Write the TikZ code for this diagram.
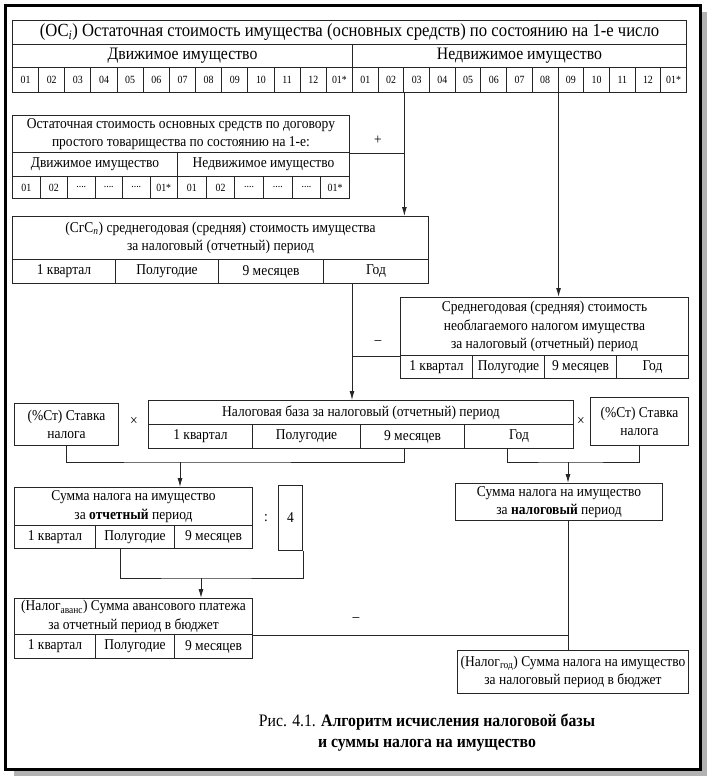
\documentclass[tikz,border=0pt]{standalone}
\usepackage{fontspec}
\setmainfont{Liberation Serif}[FakeStretch=0.9]
\usetikzlibrary{arrows.meta}

\colorlet{ink}{black!85}
\newcommand\txtfont{\fontsize{15}{18.5}\selectfont}
\newcommand\headfont{\fontsize{17.5}{20}\selectfont}
\newcommand\titlefont{\fontsize{18.5}{20}\selectfont}
\newcommand\numfont{\fontsize{11}{12}\selectfont}
\newcommand\capfont{\fontsize{17.5}{21}\selectfont}
\newcommand\fd{....}

\tikzset{
  box/.style={draw=ink, line width=1pt, inner sep=0pt, anchor=north west,
    align=center, font=\txtfont},
  headbox/.style={box, font=\headfont},
  numcell/.style={box, font=\numfont},
  conn/.style={draw=ink, line width=1pt},
  arr/.style={conn, -{Latex[length=9pt,width=5pt]}},
  sign/.style={inner sep=1pt, font=\txtfont},
}

\begin{document}
\begin{tikzpicture}[x=1pt,y=-1pt]
\fill[white] (0,0) rectangle (712,782);
\useasboundingbox (0,0) rectangle (712,782);
% frame with shadow
\draw[line width=5pt, black!30] (14,773) -- (704,773) -- (704,12);
\draw[line width=3pt] (5,5) rectangle (700,769);

% residual value, top
\node[headbox, font=\titlefont, minimum width=674pt, minimum height=24pt] (osTitle) at (12,20)
{(ОС\textsubscript{\textit{i}}) Остаточная стоимость имущества (основных средств) по состоянию на 1-е число};
\node[headbox, minimum width=340pt, minimum height=23pt] (osMov) at (12,44) {Движимое имущество};
\node[headbox, minimum width=334pt, minimum height=23pt] (osImm) at (352,44) {Недвижимое имущество};
\foreach \t [count=\i] in {01,02,03,04,05,06,07,08,09,10,11,12,01*}
  \node[numcell, minimum width=26.154pt, minimum height=25pt] (m\i) at ({12+(\i-1)*26.154},67) {\t};
\foreach \t [count=\i] in {01,02,03,04,05,06,07,08,09,10,11,12,01*}
  \node[numcell, minimum width=25.692pt, minimum height=25pt] (n\i) at ({352+(\i-1)*25.692},67) {\t};

% simple partnership
\node[box, minimum width=337pt, minimum height=37pt] (dogTitle) at (12,115)
{Остаточная стоимость основных средств по договору\\простого товарищества по состоянию на 1-е:};
\node[box, minimum width=165pt, minimum height=24pt] (dogMov) at (12,152) {Движимое имущество};
\node[box, minimum width=172pt, minimum height=24pt] (dogImm) at (177,152) {Недвижимое имущество};
\foreach \t [count=\i] in {01,02,\fd,\fd,\fd,01*}
  \node[numcell, minimum width=27.5pt, minimum height=22pt] (dm\i) at ({12+(\i-1)*27.5},176) {\t};
\foreach \t [count=\i] in {01,02,\fd,\fd,\fd,01*}
  \node[numcell, minimum width=28.667pt, minimum height=22pt] (dn\i) at ({177+(\i-1)*28.667},176) {\t};
\node[sign] (plus) at (378,140) {+};

% average annual value
\node[box, minimum width=416pt, minimum height=43pt] (sgc) at (12,216)
{(СгС\textsubscript{\textit{п}}) среднегодовая (средняя) стоимость имущества\\за налоговый (отчетный) период};
\node[box, minimum width=103pt, minimum height=24pt] (sgc1) at (12,259) {1 квартал};
\node[box, minimum width=103pt, minimum height=24pt] (sgc2) at (115,259) {Полугодие};
\node[box, minimum width=105pt, minimum height=24pt] (sgc3) at (218,259) {9 месяцев};
\node[box, minimum width=105pt, minimum height=24pt] (sgc4) at (323,259) {Год};

% non-taxed property
\node[box, minimum width=288pt, minimum height=58pt] (free) at (400,297)
{Среднегодовая (средняя) стоимость\\необлагаемого налогом имущества\\за налоговый (отчетный) период};
\node[box, minimum width=72pt, minimum height=23pt] (free1) at (400,355) {1 квартал};
\node[box, minimum width=72pt, minimum height=23pt] (free2) at (472,355) {Полугодие};
\node[box, minimum width=72pt, minimum height=23pt] (free3) at (544,355) {9 месяцев};
\node[box, minimum width=72pt, minimum height=23pt] (free4) at (616,355) {Год};
\node[sign] (minusA) at (378,343) {--};

% tax base and rates
\node[box, minimum width=104pt, minimum height=42pt] (rateL) at (14,403) {(\%Ст) Ставка\\налога};
\node[sign] (timesL) at (134,421) {×};
\node[box, minimum width=425pt, minimum height=24pt] (base) at (148,400)
{Налоговая база за налоговый (отчетный) период};
\node[box, minimum width=104pt, minimum height=24pt] (base1) at (148,424) {1 квартал};
\node[box, minimum width=108pt, minimum height=24pt] (base2) at (252,424) {Полугодие};
\node[box, minimum width=104pt, minimum height=24pt] (base3) at (360,424) {9 месяцев};
\node[box, minimum width=109pt, minimum height=24pt] (base4) at (464,424) {Год};
\node[sign] (timesR) at (581,421) {×};
\node[box, minimum width=98pt, minimum height=48pt] (rateR) at (590,397) {(\%Ст) Ставка\\налога};

% tax sums
\node[box, minimum width=238pt, minimum height=38pt] (sumRep) at (14,487)
{Сумма налога на имущество\\за \textbf{отчетный} период};
\node[box, minimum width=81pt, minimum height=23pt] (sumRep1) at (14,525) {1 квартал};
\node[box, minimum width=79pt, minimum height=23pt] (sumRep2) at (95,525) {Полугодие};
\node[box, minimum width=78pt, minimum height=23pt] (sumRep3) at (174,525) {9 месяцев};
\node[sign] (colon) at (266,518) {:};
\node[box, minimum width=24pt, minimum height=65pt] (four) at (278,485) {4};
\node[box, minimum width=207pt, minimum height=37pt] (sumTax) at (455,483)
{Сумма налога на имущество\\за \textbf{налоговый} период};

% payments to budget
\node[box, minimum width=238pt, minimum height=36pt] (adv) at (14,598)
{(Налог\textsubscript{аванс}) Сумма авансового платежа\\за отчетный период в бюджет};
\node[box, minimum width=81pt, minimum height=24pt] (adv1) at (14,634) {1 квартал};
\node[box, minimum width=79pt, minimum height=24pt] (adv2) at (95,634) {Полугодие};
\node[box, minimum width=78pt, minimum height=24pt] (adv3) at (174,634) {9 месяцев};
\node[sign] (minusB) at (356,620) {--};
\node[box, minimum width=231pt, minimum height=43pt] (year) at (457,650)
{(Налог\textsubscript{год}) Сумма налога на имущество\\за налоговый период в бюджет};

\node[font=\capfont, align=center] (caption) at (427,733)
{Рис. 4.1. \textbf{Алгоритм исчисления налоговой базы}\\\textbf{и суммы налога на имущество}};

% connectors
\draw[arr] (n2.south east) -- (n2.south east |- sgc.north);
\draw[arr] (n8.south east) -- (n8.south east |- free.north);
\draw[conn] (dogTitle.south east) -- (dogTitle.south east -| n2.south east);
\coordinate (sgcOut) at ([xshift=29pt]sgc4.south west);
\draw[arr] (sgcOut) -- (sgcOut |- base.north);
\draw[conn] (free.south west) -- (free.south west -| sgcOut);
\coordinate (mergeL) at (180,462);
\coordinate (mergeR) at (568,462);
\draw[conn] (rateL.south) |- (mergeL) -| ([xshift=-8pt]base3.south);
\draw[arr] (mergeL) -- (mergeL |- sumRep.north);
\draw[conn] ([xshift=-12pt]base4.south) |- (mergeR) -| (rateR.south);
\draw[arr] (mergeR) -- (mergeR |- sumTax.north);
\coordinate (mergeD) at (201,578);
\draw[conn] ([xshift=-15pt]sumRep2.south) |- (mergeD) -| (four.south east);
\draw[arr] (mergeD) -- (mergeD |- adv.north);
\draw[conn] (mergeR |- sumTax.south) -- (mergeR |- year.north);
\draw[conn] (adv.south east) -- (adv.south east -| mergeR);
\end{tikzpicture}
\end{document}
